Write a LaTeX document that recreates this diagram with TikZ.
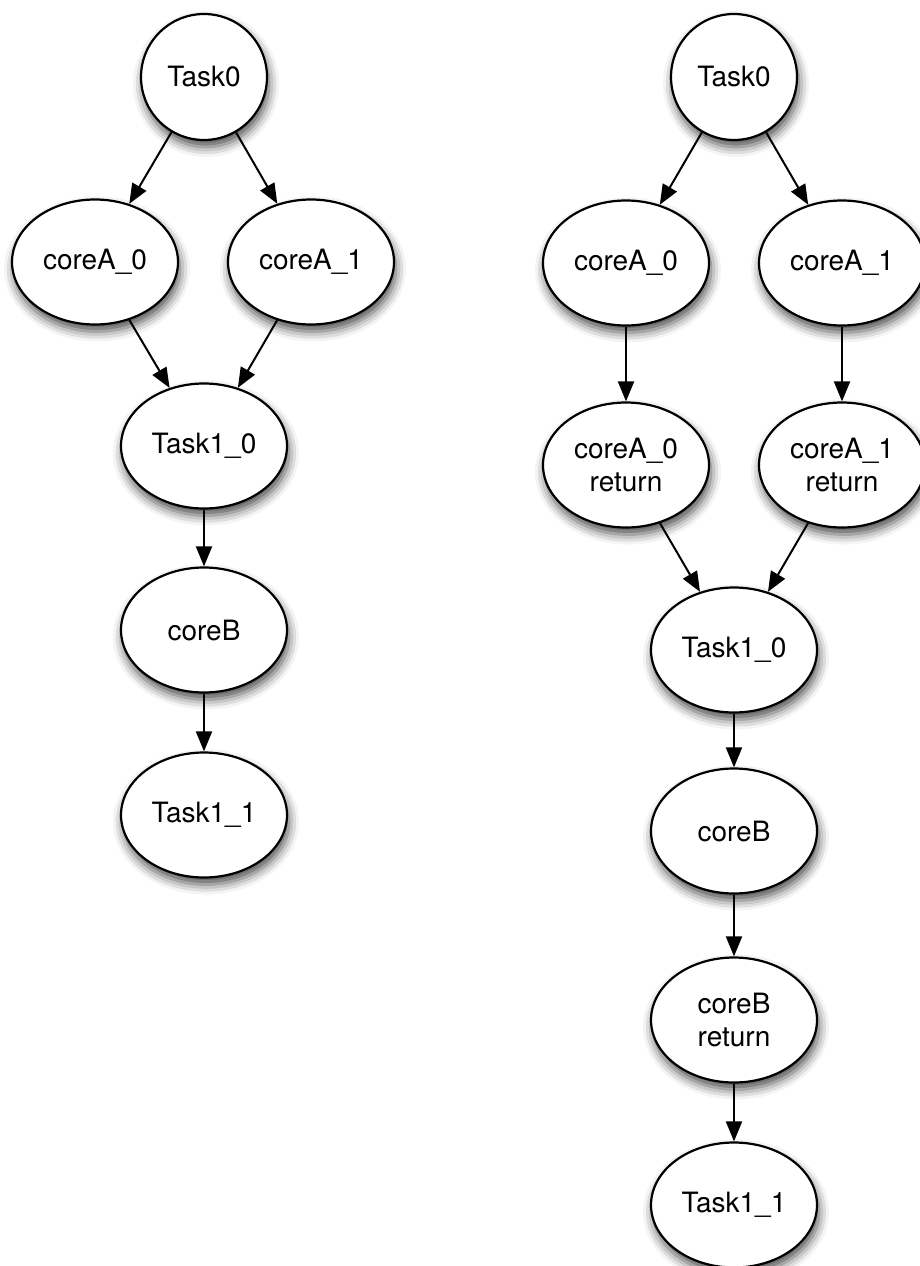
\documentclass[tikz,border=0pt]{standalone}
\usepackage{fontspec}
\setmainfont{TeX Gyre Heros}
\usetikzlibrary{arrows.meta,shapes.geometric,shadows.blur}

\begin{document}
\begin{tikzpicture}[
  x=1pt, y=-1pt, >={Triangle[length=20pt,width=16pt]},
  every node/.style={font=\fontsize{28}{33}\selectfont, align=center},
  soft shadow/.style={blur shadow={shadow xshift=2pt, shadow yshift=-7pt,
    shadow blur radius=10pt, shadow opacity=70}},
  top node/.style={circle,draw,fill=white,line width=2.2pt,
    minimum size=126pt,inner sep=0pt,soft shadow},
  job node/.style={ellipse,draw,fill=white,line width=2.2pt,
    minimum width=166pt,minimum height=125pt,inner sep=0pt,soft shadow},
  dep/.style={draw,->,line width=2pt}
]
\useasboundingbox (0,0) rectangle (919,1266);

% left graph
\node[top node] (lt0) at (204,77) {Task0};
\node[job node] (la0) at (95,262) {coreA\_0};
\node[job node] (la1) at (311,262) {coreA\_1};
\node[job node] (lt10) at (204,446) {Task1\_0};
\node[job node] (lb) at (204,630) {coreB};
\node[job node] (lt11) at (204,815) {Task1\_1};

\draw[dep] (lt0) -- (la0);
\draw[dep] (lt0) -- (la1);
\draw[dep] (la0) -- (lt10);
\draw[dep] (la1) -- (lt10);
\draw[dep] (lt10) -- (lb);
\draw[dep] (lb) -- (lt11);

% right graph, with the return steps
\node[top node] (rt0) at (734,77) {Task0};
\node[job node] (ra0) at (626,263) {coreA\_0};
\node[job node] (ra1) at (842,263) {coreA\_1};
\node[job node] (rr0) at (626,465) {coreA\_0\\return};
\node[job node] (rr1) at (842,465) {coreA\_1\\return};
\node[job node] (rt10) at (734,650) {Task1\_0};
\node[job node] (rb) at (734,831) {coreB};
\node[job node] (rbr) at (734,1020) {coreB\\return};
\node[job node] (rt11) at (734,1205) {Task1\_1};

\draw[dep] (rt0) -- (ra0);
\draw[dep] (rt0) -- (ra1);
\draw[dep] (ra0) -- (rr0);
\draw[dep] (ra1) -- (rr1);
\draw[dep] (rr0) -- (rt10);
\draw[dep] (rr1) -- (rt10);
\draw[dep] (rt10) -- (rb);
\draw[dep] (rb) -- (rbr);
\draw[dep] (rbr) -- (rt11);
\end{tikzpicture}
\end{document}
